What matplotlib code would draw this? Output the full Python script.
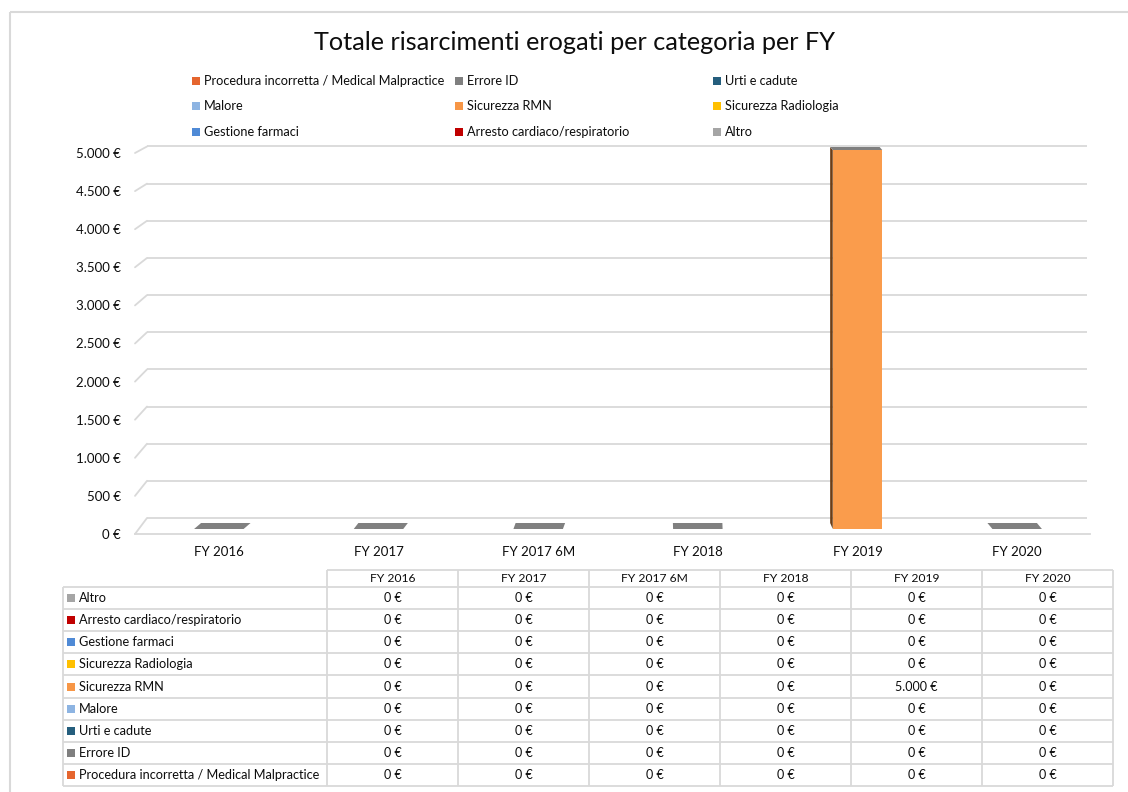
import numpy as np
import matplotlib
matplotlib.use("Agg")
import matplotlib.pyplot as plt
from matplotlib.patches import Polygon, Rectangle, ConnectionPatch
from matplotlib.transforms import IdentityTransform
from matplotlib.ticker import FuncFormatter

plt.rcParams['font.family'] = ['Lato', 'DejaVu Sans']

# ---- data -------------------------------------------------------------------
title = 'Totale risarcimenti erogati per categoria per FY'
years = ['FY 2016', 'FY 2017', 'FY 2017 6M', 'FY 2018', 'FY 2019', 'FY 2020']

# stacking order: bottom -> top (same as legend order)
categories = ['Procedura incorretta / Medical Malpractice', 'Errore ID', 'Urti e cadute',
              'Malore', 'Sicurezza RMN', 'Sicurezza Radiologia',
              'Gestione farmaci', 'Arresto cardiaco/respiratorio', 'Altro']
colors = ['#E5652E', '#7F7F7F', '#255E7D', '#8DB4E2', '#F79646', '#FFC000',
          '#4F8AD6', '#C00000', '#A5A5A5']

procedura = [0, 0, 0, 0, 0, 0]
errore_id = [0, 0, 0, 0, 0, 0]
urti = [0, 0, 0, 0, 0, 0]
malore = [0, 0, 0, 0, 0, 0]
sicurezza_rmn = [0, 0, 0, 0, 5000, 0]
sicurezza_radiologia = [0, 0, 0, 0, 0, 0]
gestione_farmaci = [0, 0, 0, 0, 0, 0]
arresto = [0, 0, 0, 0, 0, 0]
altro = [0, 0, 0, 0, 0, 0]
series = [procedura, errore_id, urti, malore, sicurezza_rmn, sicurezza_radiologia,
          gestione_farmaci, arresto, altro]

y_ticks = np.arange(0, 5001, 500)


def euro(v, pos=None):
    return f'{v:,.0f}'.replace(',', '.') + ' €'


# ---- figure / layout helpers --------------------------------------------------
W, H = 1128, 792
fig = plt.figure(figsize=(W / 100, H / 100), dpi=100)
grid_col = '#D9D9D9'
txt_col = '#0d0d0d'


def px_axes(left, top, right, bottom, **kw):
    return fig.add_axes([left / W, 1 - bottom / H, (right - left) / W, (bottom - top) / H], **kw)


base = px_axes(0, 0, W, H)
base.set_xlim(0, W)
base.set_ylim(H, 0)
base.axis('off')
base.add_patch(Rectangle((10, 12), 1300, 1000, fill=False, edgecolor=grid_col, lw=1.5))
base.text(575, 43, title, ha='center', va='center', fontsize=18.2, color='#0d0d0d')

# legend (3 columns, row-major like Excel)
col_x = [192, 455, 713]
row_y = [81, 106, 132]
for k, (name, c) in enumerate(zip(categories, colors)):
    lx, ly = col_x[k % 3], row_y[k // 3]
    base.scatter(lx + 4, ly, marker='s', s=33, color=c, linewidths=0)
    base.text(lx + 12, ly, name, va='center', ha='left', fontsize=9.2, color=txt_col)

# back wall gridlines
ax_back = px_axes(147, 146.5, 1087, 518)
ax_back.set_ylim(0, 5000)
ax_back.hlines(y_ticks, 0, 1, transform=ax_back.get_yaxis_transform(),
               color=grid_col, lw=1.3, clip_on=False)
ax_back.axis('off')

# front edge: value labels and floor line
ax_front = px_axes(135, 153, 1090, 534)
ax_front.set_ylim(0, 5000)
ax_front.set_yticks(y_ticks)
ax_front.yaxis.set_major_formatter(FuncFormatter(euro))
ax_front.tick_params(axis='y', length=0, pad=10, labelsize=9.5, labelcolor=txt_col)
ax_front.tick_params(axis='x', bottom=False, labelbottom=False)
for s in ['top', 'right', 'left']:
    ax_front.spines[s].set_visible(False)
ax_front.spines['bottom'].set_color(grid_col)
ax_front.spines['bottom'].set_linewidth(1.3)
ax_front.set_facecolor('none')

for v in y_ticks:
    fig.add_artist(ConnectionPatch(xyA=(0, v), coordsA=ax_front.get_yaxis_transform(),
                                   xyB=(0, v), coordsB=ax_back.get_yaxis_transform(),
                                   color=grid_col, lw=1.3))

# bar plane
ax = px_axes(139, 150, 1097, 529)
ax.set_facecolor('none')
x = np.arange(len(years))
bw = 0.31
bottom = np.zeros(len(years))
for vals, c in zip(series, colors):
    vals = np.array(vals, dtype=float)
    fc = '#FA9C4C' if c == '#F79646' else c
    ax.bar(x, vals, width=bw, bottom=bottom, color=fc, linewidth=0, zorder=3)
    bottom += vals
ax.set_xlim(-0.5, 5.5)
ax.set_ylim(0, 5000)
ax.set_yticks([])
ax.set_xticks(x)
ax.set_xticklabels(years)
ax.tick_params(axis='x', length=0, pad=12, labelsize=9.5, labelcolor=txt_col)
for s in ax.spines.values():
    s.set_visible(False)

# 3D look: top faces (and visible side faces) of each stack, with perspective
for i, t in enumerate(bottom):
    xl, yt = ax.transData.transform((i - bw / 2, t))
    xr, _ = ax.transData.transform((i + bw / 2, t))
    _, y0 = ax.transData.transform((i, 0))
    dx = 7 - 2.4 * i
    dyt = 6 - 3 * t / 5000
    dy0 = 6
    if t > 0:
        sx = xl if dx < 0 else xr
        fig.add_artist(Polygon([(sx, y0), (sx, yt), (sx + dx, yt + dyt), (sx + dx, y0 + dy0)],
                               closed=True, facecolor='#6B3D16', edgecolor='none',
                               transform=IdentityTransform()))
    fig.add_artist(Polygon([(xl, yt), (xr, yt), (xr + dx, yt + dyt), (xl + dx, yt + dyt)],
                           closed=True, facecolor='#808080', edgecolor='none',
                           transform=IdentityTransform()))

# data table
lw_units = 264 / 131
h0 = 17 / 22.1
n_rows = len(categories)
total = h0 + n_rows
tab = px_axes(63, 570, 1113, 786)
tab.set_xlim(-lw_units, len(years))
tab.set_ylim(total, 0)
tab.axis('off')
tab.hlines(0, 0, len(years), color=grid_col, lw=1.3, clip_on=False)
tab.hlines(h0 + np.arange(n_rows + 1), -lw_units, len(years), color=grid_col, lw=1.3, clip_on=False)
tab.vlines(-lw_units, h0, total, color=grid_col, lw=1.3, clip_on=False)
tab.vlines(np.arange(len(years) + 1), 0, total, color=grid_col, lw=1.3, clip_on=False)
for j, yr in enumerate(years):
    tab.text(j + 0.5, h0 / 2, yr, ha='center', va='center', fontsize=8.7, color=txt_col)

rows = list(zip(categories, colors, series))[::-1]
for r, (name, c, vals) in enumerate(rows):
    yc = h0 + r + 0.5
    tab.scatter(-lw_units + 8.5 / 131, yc, marker='s', s=33, color=c, linewidths=0, clip_on=False)
    tab.text(-lw_units + 16 / 131, yc, name, ha='left', va='center', fontsize=9.2, color=txt_col)
    for j, v in enumerate(vals):
        tab.text(j + 0.5, yc, euro(v), ha='center', va='center', fontsize=9, color=txt_col)

fig.savefig('out.png', dpi=100, facecolor='white')
